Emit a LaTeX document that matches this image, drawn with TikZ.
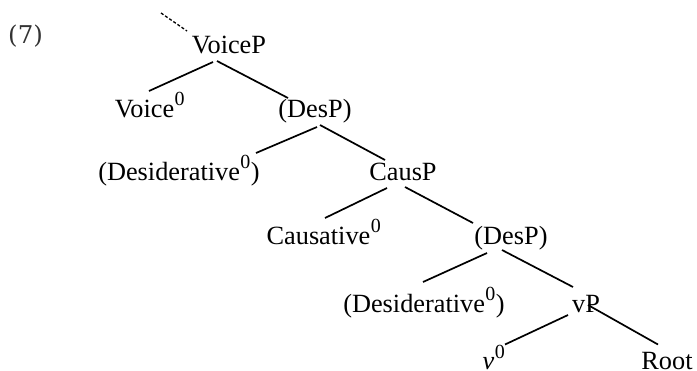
\documentclass[tikz,border=0pt]{standalone}
\usepackage{fontspec}
\setmainfont{Liberation Serif}
\newfontfamily\numfont{DejaVu Serif}
\usetikzlibrary{calc}
\newcommand{\zsup}{\kern0.5pt\raisebox{11.5pt}{\fontsize{20}{22}\selectfont 0}\kern0.5pt}
\tikzset{
  lbl/.style={inner sep=0pt, anchor=base, font=\fontsize{26.3}{30}\selectfont},
  branch/.style={line width=1.7pt},
}
\begin{document}
\begin{tikzpicture}[x=1pt,y=-1pt]
\useasboundingbox (0,0) rectangle (697,370);
\node[inner sep=0pt, anchor=base west, text=black!80, font=\numfont\fontsize{24.5}{28}\selectfont] (ex) at (8,43) {(7)};
\node[lbl] (VoiceP) at (229,53) {VoiceP};
\node[lbl] (Voice0) at (150,117) {Voice\zsup};
\node[lbl] (DesP1) at (315,117) {(DesP)};
\node[lbl] (Des1) at (179,180) {(Desiderative\zsup)};
\node[lbl] (CausP) at (403,180) {CausP};
\node[lbl] (Caus0) at (324,244) {Causative\zsup};
\node[lbl] (DesP2) at (511,244) {(DesP)};
\node[lbl] (Des2) at (424,312) {(Desiderative\zsup)};
\node[lbl] (vP) at (586,312) {vP};
\node[lbl] (v0) at (494,369.5) {\textit{v}\zsup};
\node[lbl] (Root) at (667,369.5) {Root};
\coordinate (top) at (161,13);
\draw[line width=1.3pt, dash pattern=on 3pt off 2pt] (top) -- ($(VoiceP.base)+(-42,-22)$);
\draw[branch] ($(VoiceP.base)+(-16,9)$) -- ($(Voice0.base)+(-1,-26)$);
\draw[branch] ($(VoiceP.base)+(-12,8)$) -- ($(DesP1.base)+(-27,-19)$);
\draw[branch] ($(DesP1.base)+(2,10)$) -- ($(Des1.base)+(77,-27)$);
\draw[branch] ($(DesP1.base)+(5,8)$) -- ($(CausP.base)+(-18,-20)$);
\draw[branch] ($(CausP.base)+(-16,8)$) -- ($(Caus0.base)+(1,-26)$);
\draw[branch] ($(CausP.base)+(2,7)$) -- ($(DesP2.base)+(-38,-21)$);
\draw[branch] ($(DesP2.base)+(-24,9)$) -- ($(Des2.base)+(-1,-30)$);
\draw[branch] ($(DesP2.base)+(-9,6)$) -- ($(vP.base)+(-13,-25)$);
\draw[branch] ($(vP.base)+(-18,3)$) -- ($(v0.base)+(11,-25)$);
\draw[branch] ($(vP.base)+(2,-7)$) -- ($(Root.base)+(-9,-25)$);
\end{tikzpicture}
\end{document}
